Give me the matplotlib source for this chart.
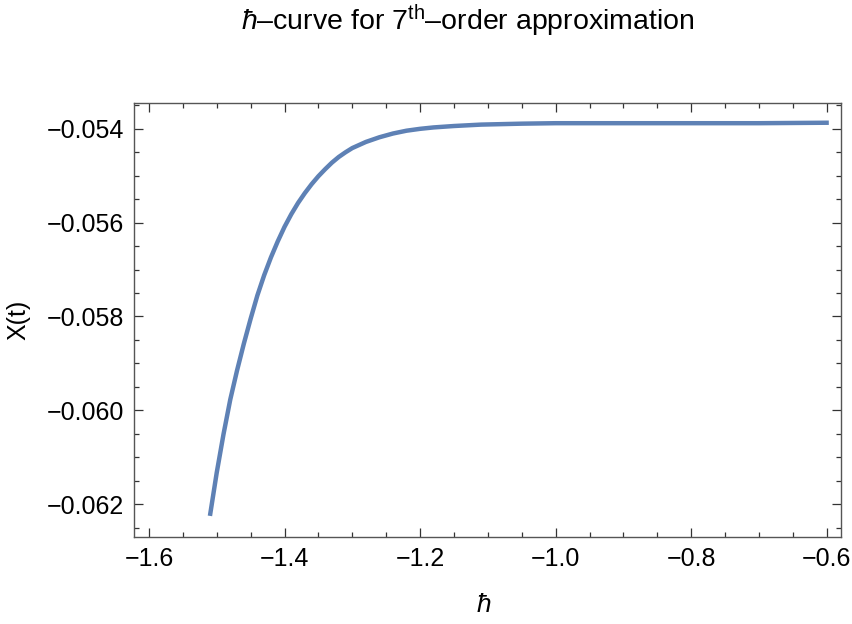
import matplotlib
matplotlib.use('Agg')
import matplotlib.pyplot as plt
from matplotlib.ticker import MultipleLocator, FuncFormatter

plt.rcParams['font.family'] = ['Liberation Sans', 'DejaVu Sans']
plt.rcParams['mathtext.fontset'] = 'custom'
plt.rcParams['mathtext.rm'] = 'Liberation Sans'
plt.rcParams['mathtext.it'] = 'Liberation Sans:italic'

# values
hbar_vals = [-1.51, -1.50, -1.49, -1.48, -1.47, -1.46, -1.45, -1.44, -1.43,
             -1.42, -1.41, -1.40, -1.39, -1.38, -1.37, -1.36, -1.35, -1.34,
             -1.33, -1.32, -1.31, -1.30, -1.28, -1.26, -1.24, -1.22, -1.20,
             -1.18, -1.15, -1.11, -1.05, -1.00, -0.90, -0.80, -0.70, -0.597]
x_vals = [-0.06225, -0.06133, -0.06051, -0.05977, -0.05915, -0.05858, -0.05805,
          -0.05755, -0.05712, -0.05674, -0.05640, -0.05609, -0.05582, -0.05558,
          -0.05537, -0.05518, -0.05501, -0.05486, -0.05472, -0.05460, -0.05450,
          -0.05441, -0.05428, -0.05418, -0.05410, -0.05404, -0.05400, -0.05397,
          -0.05394, -0.05391, -0.05389, -0.05388, -0.05388, -0.05388, -0.05388,
          -0.05387]

title = r'$\hbar$–curve for $7^{\mathrm{th}}$–order approximation'

fig = plt.figure(figsize=(8.52, 6.24), dpi=100)
ax = fig.add_axes([0.1573, 0.1394, 0.8298, 0.6955])

ax.plot(hbar_vals, x_vals, color='#5e81b5', lw=3.2, solid_capstyle='butt',
        solid_joinstyle='round')

ax.set_xlim(-1.622, -0.579)
ax.set_ylim(-0.0627, -0.05345)

ax.xaxis.set_major_locator(MultipleLocator(0.2))
ax.xaxis.set_minor_locator(MultipleLocator(0.05))
ax.yaxis.set_major_locator(MultipleLocator(0.002))
ax.yaxis.set_minor_locator(MultipleLocator(0.0005))

ax.xaxis.set_major_formatter(FuncFormatter(lambda v, p: ('%.1f' % v).replace('-', '\u2212')))
ax.yaxis.set_major_formatter(FuncFormatter(lambda v, p: ('%.3f' % v).replace('-', '\u2212')))

for s in ax.spines.values():
    s.set_color('#555555')
    s.set_linewidth(1.0)

ax.tick_params(which='both', direction='in', top=True, right=True, color='#333333', width=0.9)
ax.tick_params(which='major', length=6.5, labelsize=18, pad=7)
ax.tick_params(which='minor', length=3.6)

ax.set_ylabel('X(t)', fontsize=18, labelpad=12)
fig.text(0.568, 0.03, r'$\hbar$', fontsize=19, ha='center', va='center')
fig.text(0.549, 0.967, title, fontsize=20.5, ha='center', va='center')

fig.savefig('out.png', dpi=100)
